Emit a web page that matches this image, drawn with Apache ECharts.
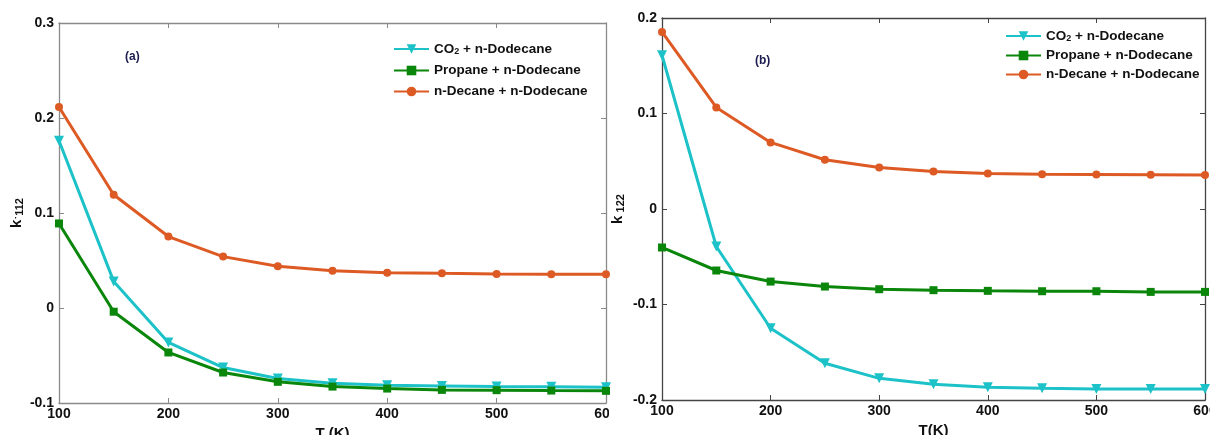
<!DOCTYPE html>
<html>
<head>
<meta charset="utf-8">
<script src="https://cdn.jsdelivr.net/npm/echarts@6/dist/echarts.min.js"></script>
<style>html,body{margin:0;padding:0;background:#fff}#c{width:1210px;height:435px}</style>
</head>
<body>
<div id="c"></div>
<script>
const temps = [100,150,200,250,300,350,400,450,500,550,600];
// panel (a): k'112
const co2A  = [0.176,0.028,-0.0363,-0.0627,-0.0743,-0.0791,-0.0812,-0.0820,-0.0827,-0.0830,-0.0833];
const propA = [0.089,-0.0039,-0.0468,-0.0679,-0.0777,-0.0827,-0.0848,-0.0862,-0.0865,-0.0869,-0.0872];
const decA  = [0.2116,0.1192,0.0752,0.0541,0.0439,0.0393,0.0372,0.0365,0.0359,0.0355,0.0354];
// panel (b): k122
const co2B  = [0.161,-0.0393,-0.1249,-0.1615,-0.1773,-0.1836,-0.1867,-0.1878,-0.1885,-0.1885,-0.1885];
const propB = [-0.0403,-0.0644,-0.0760,-0.0812,-0.0840,-0.0850,-0.0857,-0.0861,-0.0861,-0.0868,-0.0868];
const decB  = [0.1854,0.1064,0.0697,0.0516,0.0435,0.0393,0.0372,0.0365,0.0362,0.0358,0.0355];
const names = ['CO2 + n-Dodecane','Propane + n-Dodecane','n-Decane + n-Dodecane'];
const xTicks = {min:100,max:600,interval:100};
const yTicksA = {min:-0.1,max:0.3,interval:0.1};
const yTicksB = {min:-0.2,max:0.2,interval:0.1};

const FONT = '"Liberation Sans", Arial, sans-serif';
const colors = ['#1cc2c8','#0a860a','#dd5a24'];
const symbols = [{symbol:'triangle',symbolSize:10,symbolRotate:180},{symbol:'rect',symbolSize:8},{symbol:'circle',symbolSize:8}];

function axisSet(gi, yT, frameColor){
  const common = {gridIndex:gi, axisLine:{show:true,onZero:false,lineStyle:{color:frameColor,width:1.3}},
    axisTick:{show:true,inside:true,length:5,lineStyle:{color:frameColor,width:1}}, splitLine:{show:false}};
  const label = {show:true,color:'#111',fontFamily:FONT,fontWeight:'bold',fontSize:14};
  return {
    x:[
      Object.assign({type:'value',position:'bottom',min:xTicks.min,max:xTicks.max,interval:xTicks.interval,
        axisLabel:Object.assign({margin:4},label)},common),
      Object.assign({type:'value',position:'top',min:xTicks.min,max:xTicks.max,interval:xTicks.interval,axisLabel:{show:false}},common)
    ],
    y:[
      Object.assign({type:'value',position:'left',min:yT.min,max:yT.max,interval:yT.interval,
        axisLabel:Object.assign({margin:5},label)},common),
      Object.assign({type:'value',position:'right',min:yT.min,max:yT.max,interval:yT.interval,axisLabel:{show:false}},common)
    ]
  };
}
const aA = axisSet(0, yTicksA, '#8a8a8a');
const aB = axisSet(1, yTicksB, '#444444');
aA.x[0].name = 'T (K)'; aB.x[0].name = 'T(K)';
[aA.x[0],aB.x[0]].forEach(a=>{a.nameLocation='middle';a.nameGap=21;a.nameTextStyle={fontFamily:FONT,fontWeight:'bold',fontSize:15,color:'#111'};});
aA.y[0].name = '{k|k}{s|\u02d9112}';
aB.y[0].name = '{k|k}{s| 122}';
[aA.y[0],aB.y[0]].forEach((a,i)=>{a.nameLocation='middle';a.nameRotate=90;a.nameGap=i?36:34;
  a.nameTextStyle={fontFamily:FONT,fontWeight:'bold',color:'#111',rich:{k:{fontSize:15,fontWeight:'bold',fontFamily:FONT,color:'#111'},s:{fontSize:11,fontWeight:'bold',fontFamily:FONT,color:'#111',padding:[6,0,0,0]}}};});

function mk(name, data, idx, gi){
  return Object.assign({type:'line',name:name,xAxisIndex:gi*2,yAxisIndex:gi*2,
    data:temps.map((t,i)=>[t,data[i]]),color:colors[idx],
    lineStyle:{width:3,color:colors[idx]},itemStyle:{color:colors[idx]},animation:false},symbols[idx]);
}
const legendText = {fontFamily:FONT,fontWeight:'bold',fontSize:13.5,color:'#111',
  rich:{a:{fontFamily:FONT,fontWeight:'bold',fontSize:13.5,color:'#111'},s:{fontFamily:FONT,fontWeight:'bold',fontSize:9,color:'#111',padding:[6,0,0,0]}}};
const fmt = n => n.indexOf('CO2')===0 ? '{a|CO}{s|2}{a|'+n.slice(3)+'}' : '{a|'+n+'}';

const chart = echarts.init(document.getElementById('c'),null,{renderer:'canvas'});
chart.setOption({
  backgroundColor:'#fff',
  animation:false,
  grid:[{left:59,top:23,width:547,height:380,outerBoundsMode:'none',containLabel:false},
        {left:662,top:18,width:543,height:382,outerBoundsMode:'none',containLabel:false}],
  xAxis:[aA.x[0],aA.x[1],aB.x[0],aB.x[1]],
  yAxis:[aA.y[0],aA.y[1],aB.y[0],aB.y[1]],
  legend:[
    {orient:'vertical',left:393,top:42,padding:0,itemWidth:35,itemHeight:12,itemGap:7,data:names,textStyle:legendText,formatter:fmt,selectedMode:false},
    {orient:'vertical',left:1005,top:29,padding:0,itemWidth:35,itemHeight:12,itemGap:5,data:names,textStyle:legendText,formatter:fmt,selectedMode:false}
  ],
  title:[
    {text:'(a)',left:125,top:51,padding:0,textStyle:{fontFamily:FONT,fontWeight:'bold',fontSize:12,color:'#1c1c50'}},
    {text:'(b)',left:755,top:55,padding:0,textStyle:{fontFamily:FONT,fontWeight:'bold',fontSize:12,color:'#1c1c50'}}
  ],
  series:[
    mk(names[0],co2A,0,0), mk(names[1],propA,1,0), mk(names[2],decA,2,0),
    mk(names[0],co2B,0,1), mk(names[1],propB,1,1), mk(names[2],decB,2,1)
  ],
  graphic:[{type:'rect',shape:{x:609,y:404,width:14,height:31},style:{fill:'#fff'},z:100}]
});
</script>
</body>
</html>
